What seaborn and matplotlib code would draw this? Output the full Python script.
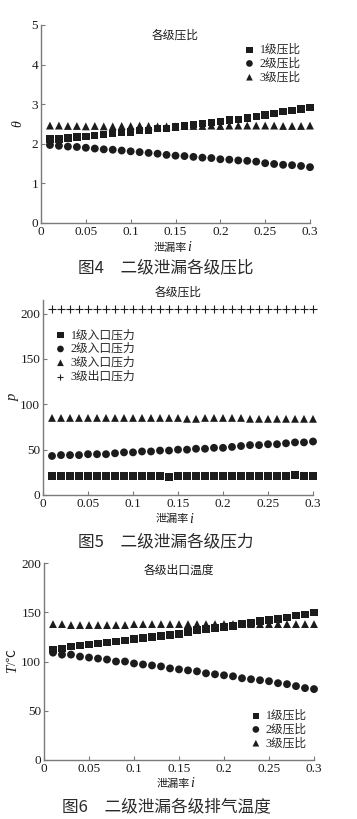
import numpy as np
import pandas as pd
import matplotlib
matplotlib.use("Agg")
import matplotlib.pyplot as plt
import seaborn as sns

# ---------------- data ----------------
leak = [round(0.01 * k, 2) for k in range(1, 31)]

ratio1 = [2.12, 2.12, 2.15, 2.17, 2.19, 2.21, 2.24, 2.26, 2.28, 2.30,
          2.33, 2.34, 2.38, 2.39, 2.42, 2.45, 2.49, 2.51, 2.54, 2.57,
          2.60, 2.62, 2.65, 2.69, 2.73, 2.77, 2.81, 2.84, 2.88, 2.92]
ratio2 = [1.97, 1.95, 1.93, 1.92, 1.90, 1.88, 1.86, 1.85, 1.83, 1.81,
          1.79, 1.77, 1.75, 1.72, 1.70, 1.69, 1.67, 1.65, 1.64, 1.61,
          1.60, 1.58, 1.57, 1.55, 1.51, 1.49, 1.47, 1.46, 1.44, 1.41]
ratio3 = [2.46, 2.46, 2.45, 2.45, 2.44, 2.45, 2.44, 2.44, 2.45, 2.45,
          2.46, 2.45, 2.44, 2.44, 2.44, 2.45, 2.45, 2.45, 2.46, 2.45,
          2.46, 2.46, 2.46, 2.46, 2.46, 2.46, 2.45, 2.45, 2.45, 2.46]

p_in1 = [21, 21, 21, 21, 21, 21, 21, 21, 21, 21,
         21, 21, 21, 20, 21, 21, 21, 21, 21, 21,
         21, 21, 21, 21, 21, 21, 21, 22, 21, 21]
p_in2 = [43, 44, 44, 44, 45, 45, 45, 46, 47, 47,
         48, 48, 49, 49, 50, 50, 51, 51, 52, 52,
         53, 54, 55, 55, 56, 56, 57, 58, 58, 59]
p_in3 = [85, 85, 85, 85, 85, 85, 85, 85, 85, 85,
         85, 85, 85, 85, 85, 84, 84, 85, 85, 85,
         85, 85, 84, 84, 84, 84, 84, 84, 84, 84]
p_out3 = [205] * 30

T1 = [112, 113, 115, 116, 117, 118, 119, 120, 121, 123,
      124, 125, 126, 127, 128, 130, 132, 133, 134, 135,
      136, 138, 139, 141, 142, 143, 145, 147, 148, 150]
T2 = [109, 107, 107, 105, 104, 103, 102, 100, 100, 98,
      97, 96, 95, 93, 92, 91, 90, 88, 87, 86,
      85, 83, 82, 81, 80, 78, 77, 75, 73, 72]
T3 = [138, 138, 137, 137, 137, 137, 137, 137, 137, 138,
      138, 138, 138, 138, 138, 138, 138, 138, 138, 138,
      138, 138, 138, 138, 138, 138, 138, 138, 138, 138]

labels_ratio = ["1级压比", "2级压比", "3级压比"]
labels_p = ["1级入口压力", "2级入口压力", "3级入口压力", "3级出口压力"]
xticks = [0, 0.05, 0.1, 0.15, 0.2, 0.25, 0.3]
xticklabels = ["0", "0.05", "0.1", "0.15", "0.2", "0.25", "0.3"]

titles = ["各级压比", "各级压比", "各级出口温度"]
captions = ["图4　二级泄漏各级压比", "图5　二级泄漏各级压力", "图6　二级泄漏各级排气温度"]

# ---------------- style ----------------
sns.set_theme(style="ticks")
SERIF = ["Liberation Serif", "Noto Sans CJK SC", "DejaVu Sans"]
CJK = ["Noto Sans CJK SC", "DejaVu Sans"]
plt.rcParams["font.family"] = SERIF
plt.rcParams["axes.unicode_minus"] = False

INK = "#1c1c1c"
SPINE = "#7a7a7a"

fig = plt.figure(figsize=(3.57, 8.19), dpi=100)

positions = [
    [41 / 357, 1 - 223 / 819, 269 / 357, 198 / 819],
    [43 / 357, 1 - 495 / 819, 270 / 357, 195 / 819],
    [44 / 357, 1 - 760 / 819, 270 / 357, 197 / 819],
]
axes = [fig.add_axes(p) for p in positions]

markers = {"s": ("s", 28), "o": ("o", 32), "^": ("^", 32), "+": ("+", 26)}


def draw(ax, y, label, mk):
    m, s = markers[mk]
    df = pd.DataFrame({"x": leak, "y": y})
    kw = dict(linewidth=0) if m != "+" else dict(linewidth=0.8)
    sns.scatterplot(data=df, x="x", y="y", ax=ax, marker=m, s=s, color=INK,
                    edgecolor=INK if m == "+" else "none", label=label,
                    clip_on=False, zorder=3, **kw)


def style_axes(ax, ylim, yticks):
    ax.set_xlim(0, 0.3)
    ax.set_ylim(*ylim)
    ax.set_xticks(xticks)
    ax.set_xticklabels(xticklabels)
    ax.set_yticks(yticks)
    ax.set_yticklabels([str(v) for v in yticks])
    for sp in ["top", "right"]:
        ax.spines[sp].set_visible(False)
    for sp in ["left", "bottom"]:
        ax.spines[sp].set_color(SPINE)
        ax.spines[sp].set_linewidth(1.0)
    ax.tick_params(direction="in", length=3, width=0.8, color=SPINE,
                   labelsize=9.5, labelcolor=INK, pad=2)
    for t in ax.get_xticklabels() + ax.get_yticklabels():
        t.set_fontfamily("Liberation Serif")
    ax.set_xlabel("")
    ax.set_ylabel("")
    ax.set_facecolor("white")


def xlabel(ax, y):
    t = ax.text(0.48, y, "泄漏率", transform=ax.transAxes, ha="center",
                va="baseline", fontsize=8, family=CJK, color=INK)
    ax.annotate("i", xy=(1, 0), xycoords=t, xytext=(0.2, -1.2),
                textcoords="offset points", ha="left", va="bottom",
                fontsize=10, family="Liberation Serif", style="italic",
                color=INK)


LEG = dict(loc="upper left", frameon=False, fontsize=8.5, handletextpad=0.1,
           labelspacing=0.15, borderpad=0, handlelength=1.5, markerscale=0.85)

# ---- panel 1 ----
ax = axes[0]
draw(ax, ratio1, labels_ratio[0], "s")
draw(ax, ratio2, labels_ratio[1], "o")
draw(ax, ratio3, labels_ratio[2], "^")
style_axes(ax, (0, 5), [0, 1, 2, 3, 4, 5])
ax.text(0.5, 0.95, titles[0], transform=ax.transAxes, ha="center",
        va="center", fontsize=8.5, family=CJK, color=INK)
ax.text(-0.085, 0.5, "θ", transform=ax.transAxes, rotation=90, ha="center",
        va="center", fontsize=10, family="Liberation Serif", style="italic",
        color=INK)
xlabel(ax, -0.14)
ax.legend(bbox_to_anchor=(0.72, 0.935), **LEG)

# ---- panel 2 ----
ax = axes[1]
draw(ax, p_in1, labels_p[0], "s")
draw(ax, p_in2, labels_p[1], "o")
draw(ax, p_in3, labels_p[2], "^")
draw(ax, p_out3, labels_p[3], "+")
style_axes(ax, (0, 215), [0, 50, 100, 150, 200])
ax.set_title(titles[1], fontsize=8.5, family=CJK, color=INK, pad=3)
ax.text(-0.11, 0.5, "p", transform=ax.transAxes, rotation=90, ha="center",
        va="center", fontsize=10.5, family="Liberation Serif", style="italic",
        color=INK)
xlabel(ax, -0.14)
ax.legend(bbox_to_anchor=(0.01, 0.88), **LEG)

# ---- panel 3 ----
ax = axes[2]
draw(ax, T1, labels_ratio[0], "s")
draw(ax, T2, labels_ratio[1], "o")
draw(ax, T3, labels_ratio[2], "^")
style_axes(ax, (0, 200), [0, 50, 100, 150, 200])
ax.text(0.5, 0.965, titles[2], transform=ax.transAxes, ha="center",
        va="center", fontsize=8.5, family=CJK, color=INK)
yt = ax.text(-0.115, 0.46, "T", transform=ax.transAxes, rotation=90,
             ha="center", va="center", fontsize=10.5, family="Liberation Serif",
             style="italic", color=INK)
ax.annotate("/℃", xy=(0.5, 1), xycoords=yt, xytext=(0, 0.5),
            textcoords="offset points", rotation=90, ha="center", va="bottom",
            fontsize=9, family=SERIF, color=INK)
xlabel(ax, -0.135)
ax.legend(bbox_to_anchor=(0.73, 0.285), **LEG)

# ---- captions ----
for ycap, cap in zip([268, 542, 807], captions):
    fig.text(166 / 357, 1 - ycap / 819, cap, ha="center", va="center",
             fontsize=12, family=CJK, color="#2a2a2a")

fig.savefig("out.png", dpi=100, facecolor="white")
